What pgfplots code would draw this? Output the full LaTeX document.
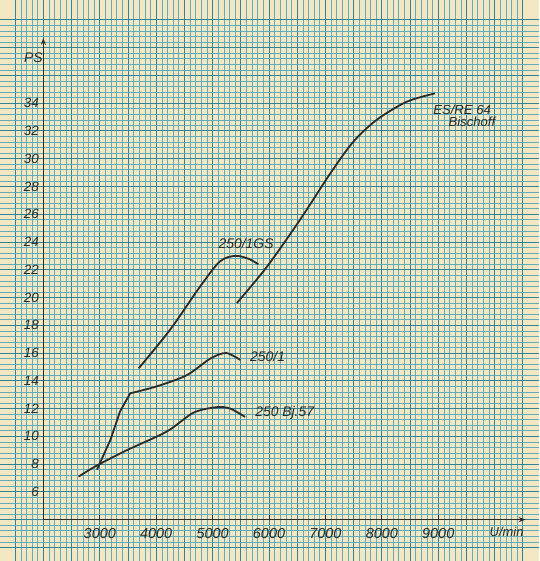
\documentclass[border=0pt]{standalone}
\usepackage{pgfplots}
\pgfplotsset{compat=1.18}
\usetikzlibrary{arrows.meta}
\usepackage{fontspec}
\setmainfont{Liberation Sans}
\definecolor{paper}{HTML}{F2E7C2}
\definecolor{gridmin}{HTML}{5FADBA}
\definecolor{gridmaj}{HTML}{2E8499}
\definecolor{ink}{HTML}{2B2B2B}
\begin{document}
\begin{tikzpicture}
\begin{axis}[
  scale only axis, width=539bp, height=561bp,
  xmin=1239, xmax=10779, ymin=1.05, ymax=41.4,
  axis line style={draw=none},
  axis background/.style={fill=paper},
  scaled x ticks=false, scaled y ticks=false,
  major tick length=0pt, minor tick length=0pt,
  xtick={1500,2000,...,10500},
  xticklabels={,,,3000,,4000,,5000,,6000,,7000,,8000,,9000,,,},
  ytick={2,4,...,40},
  yticklabels={,,6,8,10,12,14,16,18,20,22,24,26,28,30,32,34,,,},
  minor x tick num=4, minor y tick num=4,
  grid=both,
  major grid style={gridmaj, line width=0.9bp},
  minor grid style={gridmin, line width=0.6bp},
  xticklabel style={font=\itshape\fontsize{14.5}{14}\selectfont, text=ink, yshift=36bp},
  yticklabel style={font=\itshape\fontsize{13.5}{14}\selectfont, text=ink, xshift=42bp},
  clip=false,
]
% axes
\draw[ink, line width=1.1bp, -{Stealth[length=7bp,width=5bp]}] (axis cs:2000,4) -- (axis cs:10549,4);
\draw[ink, line width=1.1bp, -{Stealth[length=7bp,width=5bp]}] (axis cs:2000,4) -- (axis cs:2000,38.7);
\pgfplotsinvokeforeach{3000,4000,5000,6000,7000,8000,9000}{\draw[ink, line width=0.9bp] (axis cs:#1,4) -- (axis cs:#1,4.3);}
% curves
\addplot[ink, line width=1.8bp, smooth] coordinates {(2625,7.1)(2950,7.9)(3480,9.0)(4190,10.35)(4660,11.7)(5070,12.1)(5310,12.0)(5575,11.4)};
\addplot[ink, line width=1.8bp] coordinates {(2950,7.6)(3190,9.76)(3360,11.8)(3540,13.1)};
\addplot[ink, line width=1.8bp, smooth] coordinates {(3540,13.1)(4010,13.6)(4540,14.4)(4960,15.6)(5240,16.0)(5490,15.5)};
\addplot[ink, line width=1.8bp, smooth] coordinates {(3690,14.9)(4250,17.7)(4780,20.8)(5130,22.6)(5400,23.0)(5630,22.8)(5810,22.4)};
\addplot[ink, line width=1.8bp, smooth] coordinates {(5430,19.6)(5960,22.2)(6550,25.6)(7080,28.9)(7490,31.2)(7910,32.8)(8440,34.1)(8940,34.7)};
% labels
\node[anchor=west, text=ink, font=\itshape\fontsize{14}{14}\selectfont] at (axis cs:5044,23.9) {250/1GS};
\node[anchor=west, text=ink, font=\itshape\fontsize{14}{14}\selectfont] at (axis cs:5605,15.75) {250/1};
\node[anchor=west, text=ink, font=\itshape\fontsize{14}{14}\selectfont] at (axis cs:5694,11.68) {250 Bj.57};
\node[anchor=west, text=ink, font=\itshape\fontsize{13.2}{12}\selectfont, inner sep=0.5bp, text height=9.5bp, text depth=0.5bp] at (axis cs:8900,33.5) {ES/RE 64};
\node[anchor=west, text=ink, font=\itshape\fontsize{13.2}{12}\selectfont, inner sep=0.5bp, text height=9.5bp, text depth=0.5bp] at (axis cs:9170,32.62) {Bischoff};
\node[text=ink, font=\itshape\fontsize{14}{14}\selectfont] at (axis cs:1823,37.3) {PS};
\node[text=ink, font=\itshape\fontsize{13}{14}\selectfont] at (axis cs:10212,3.14) {U/min};
\end{axis}
\end{tikzpicture}
\end{document}
